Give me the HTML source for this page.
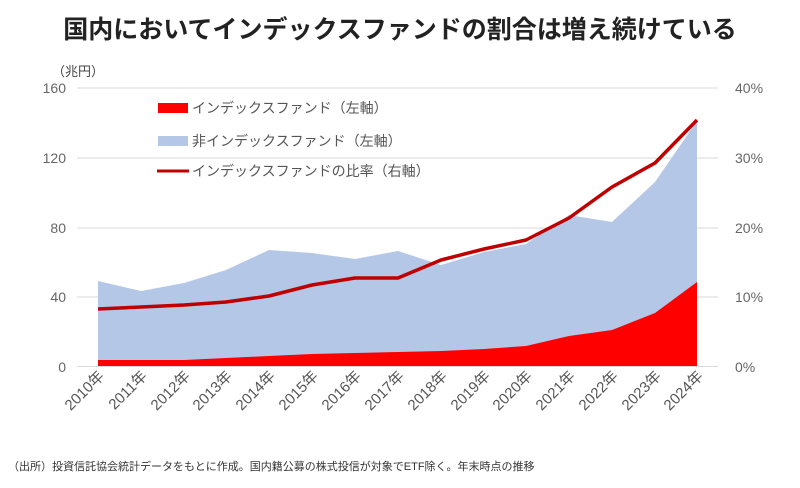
<!DOCTYPE html>
<html><head><meta charset="utf-8"><style>
body{margin:0;background:#fff;}
svg text{font-family:"Liberation Sans","Noto Sans CJK JP",sans-serif;}
</style></head><body>
<svg width="800" height="483" xmlns="http://www.w3.org/2000/svg">
<text x="400" y="38" text-anchor="middle" font-size="25" font-weight="bold" fill="#222">国内においてインデックスファンドの割合は増え続けている</text>
<text x="52" y="76" font-size="13" fill="#444">（兆円）</text>
<g stroke="#d9d9d9" stroke-width="1">
<line x1="77" y1="88" x2="718" y2="88"/>
<line x1="77" y1="158" x2="718" y2="158"/>
<line x1="77" y1="228" x2="718" y2="228"/>
<line x1="77" y1="297" x2="718" y2="297"/>
</g>
<g font-size="14" fill="#666" text-anchor="end">
<text x="66" y="93">160</text><text x="66" y="163">120</text><text x="66" y="233">80</text><text x="66" y="302">40</text><text x="66" y="372">0</text>
</g>
<g font-size="14" fill="#666" text-anchor="start">
<text x="735" y="93">40%</text><text x="735" y="163">30%</text><text x="735" y="233">20%</text><text x="735" y="302">10%</text><text x="735" y="372">0%</text>
</g>
<polygon fill="#b4c7e7" points="98,367 98,281 141,291 184,283 226,270 269,250 312,253 355,259 398,251 441,265 484,252 526,244 569,215 612,222 655,182 697,121 697,367"/>
<polygon fill="#ff0000" points="98,367 98,360 141,360 184,360 226,358 269,356 312,354 355,353 398,352 441,351 484,349 526,346 569,336 612,330 655,313 697,282 697,367"/>
<polyline fill="none" stroke="#c00000" stroke-width="3.5" stroke-linejoin="round" points="98,309 141,307 184,305 226,302 269,296 312,285 355,278 398,278 441,260 484,249 526,240 569,218 612,187 655,163 697,120"/>
<line x1="77" y1="366.5" x2="718" y2="366.5" stroke="#d9d9d9"/>
<g font-size="15" fill="#555" text-anchor="end">
<text transform="translate(105,377) rotate(-45)">2010年</text>
<text transform="translate(148,377) rotate(-45)">2011年</text>
<text transform="translate(191,377) rotate(-45)">2012年</text>
<text transform="translate(233,377) rotate(-45)">2013年</text>
<text transform="translate(276,377) rotate(-45)">2014年</text>
<text transform="translate(319,377) rotate(-45)">2015年</text>
<text transform="translate(362,377) rotate(-45)">2016年</text>
<text transform="translate(405,377) rotate(-45)">2017年</text>
<text transform="translate(448,377) rotate(-45)">2018年</text>
<text transform="translate(491,377) rotate(-45)">2019年</text>
<text transform="translate(533,377) rotate(-45)">2020年</text>
<text transform="translate(576,377) rotate(-45)">2021年</text>
<text transform="translate(619,377) rotate(-45)">2022年</text>
<text transform="translate(662,377) rotate(-45)">2023年</text>
<text transform="translate(704,377) rotate(-45)">2024年</text>
</g>
<rect x="158" y="103" width="30" height="10" fill="#ff0000"/>
<text x="192" y="113" font-size="14" fill="#555">インデックスファンド（左軸）</text>
<rect x="158" y="136" width="30" height="10" fill="#b4c7e7"/>
<text x="192" y="146" font-size="14" fill="#555">非インデックスファンド（左軸）</text>
<line x1="157" y1="171" x2="189" y2="171" stroke="#c00000" stroke-width="3"/>
<text x="192" y="176" font-size="14" fill="#555">インデックスファンドの比率（右軸）</text>
<text x="8" y="470" font-size="11" fill="#333">（出所）投資信託協会統計データをもとに作成。国内籍公募の株式投信が対象でETF除く。年末時点の推移</text>
</svg>
</body></html>
